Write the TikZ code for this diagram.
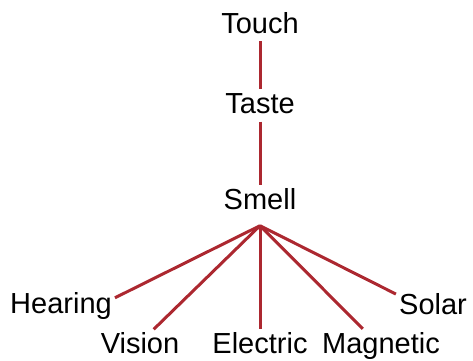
\documentclass[tikz,border=0pt]{standalone}
\usepackage{fontspec}
\setmainfont{Liberation Sans}
\usepackage{tikz}
\usetikzlibrary{positioning}
\definecolor{linkred}{RGB}{172,40,48}

\begin{document}
\begin{tikzpicture}[x=1pt, y=1pt,
    sense/.style={inner sep=3pt, text height=21pt, text depth=0pt,
        font=\fontsize{29}{34}\selectfont},
    link/.style={linkred, line width=3pt}]
    \useasboundingbox (0,0) rectangle (473,360);

    % Chain of senses
    \node[sense] (touch) at (260, 337.5) {Touch};
    \node[sense] (taste) at (260, 257) {Taste};
    \node[sense] (smell) at (260, 161) {Smell};
    \draw[link, shorten <=5pt] (touch.south) -- (taste.north);
    \draw[link, shorten <=5pt] (taste.south) -- (smell.north);

    % Branches below Smell
    \coordinate[below=13pt of smell.south] (hub);
    \node[sense] (hearing) at (61, 57.5) {Hearing};
    \node[sense] (vision) at (140, 17) {Vision};
    \node[sense] (electric) at (260, 17.5) {Electric};
    \node[sense] (magnetic) at (381, 17.5) {Magnetic};
    \node[sense] (solar) at (433, 56) {Solar};
    \draw[link] (hub) -- (hearing.5);
    \draw[link] (hub) -- (vision.45);
    \draw[link] (hub) -- (electric.north);
    \draw[link] (hub) -- (magnetic.143);
    \draw[link] (hub) -- (solar.165);
\end{tikzpicture}
\end{document}
